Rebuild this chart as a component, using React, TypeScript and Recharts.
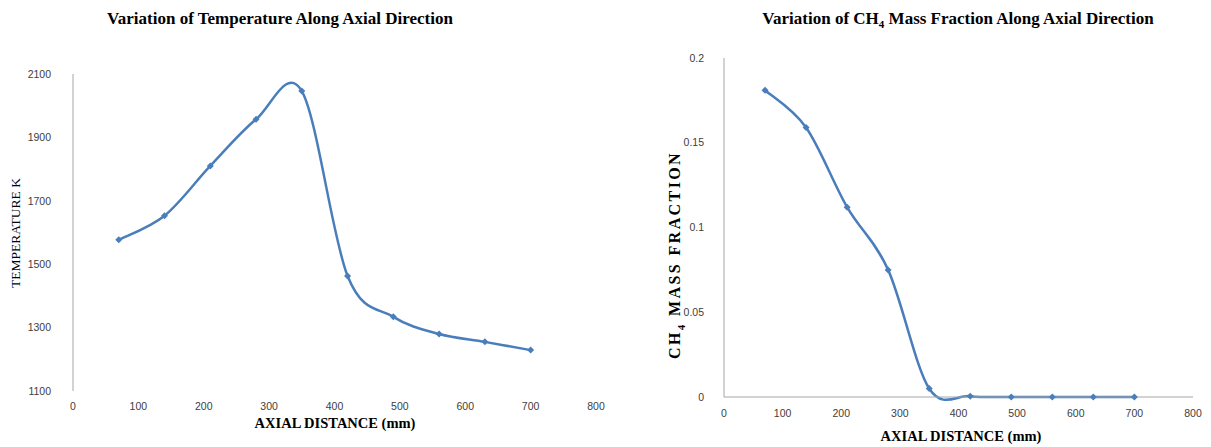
import React from "react";
import { LineChart, Line, XAxis, YAxis } from "recharts";

const distance = [70, 140, 210, 280, 350, 420, 490, 560, 630, 700];
const temperature = [1577, 1653, 1810, 1957, 2046, 1463, 1334, 1280, 1255, 1229];
const ch4Fraction = [0.181, 0.159, 0.112, 0.075, 0.005, 0.0005, 0, 0, 0, 0];

const xTicks = [0, 100, 200, 300, 400, 500, 600, 700, 800];
const tempTicks = [1100, 1300, 1500, 1700, 1900, 2100];
const ch4Ticks = [0, 0.05, 0.1, 0.15, 0.2];

const tempData = distance.map((d, i) => ({ distance: d, temperature: temperature[i] }));
const ch4Data = distance.map((d, i) => ({ distance: d, ch4: ch4Fraction[i] }));

const LINE = "#4a7ebb";
const AXIS = "#a6a6a6";
const tickStyle = { fill: "#404040", fontSize: 10.5, fontFamily: "Liberation Sans, Arial, sans-serif" };

// smoothing like the spreadsheet's "smoothed line": cubic bezier, control points from neighbours / 6
function smoothCurve(context: any) {
    let pts: number[][] = [];
    return {
        areaStart() {},
        areaEnd() {},
        lineStart() {
            pts = [];
        },
        point(x: number, y: number) {
            pts.push([+x, +y]);
        },
        lineEnd() {
            if (!pts.length) return;
            context.moveTo(pts[0][0], pts[0][1]);
            for (let i = 0; i < pts.length - 1; i++) {
                const p0 = pts[i - 1] || pts[i];
                const p1 = pts[i];
                const p2 = pts[i + 1];
                const p3 = pts[i + 2] || pts[i + 1];
                context.bezierCurveTo(
                    p1[0] + (p2[0] - p0[0]) / 6,
                    p1[1] + (p2[1] - p0[1]) / 6,
                    p2[0] - (p3[0] - p1[0]) / 6,
                    p2[1] - (p3[1] - p1[1]) / 6,
                    p2[0],
                    p2[1]
                );
            }
        },
    };
}

function Diamond(props: any) {
    const { cx, cy, index } = props;
    if (cx == null || cy == null) return <g key={index} />;
    const s = 3.5;
    return (
        <path
            key={index}
            d={`M${cx},${cy - s}L${cx + s},${cy}L${cx},${cy + s}L${cx - s},${cy}Z`}
            fill={LINE}
        />
    );
}

const titleStyle: React.CSSProperties = {
    position: "absolute",
    fontFamily: "Liberation Serif, Times New Roman, serif",
    fontWeight: 700,
    fontSize: 17,
    color: "#000",
    whiteSpace: "nowrap",
    transform: "translate(-50%, -50%)",
    lineHeight: 1,
};

const axisTitle: React.CSSProperties = {
    ...titleStyle,
    fontSize: 14.5,
};

export default function App() {
    return (
        <div style={{ position: "absolute", left: 0, top: 0, width: 1211, height: 447, background: "#fff" }}>
            <div style={{ ...titleStyle, left: 280, top: 18 }}>Variation of Temperature Along Axial Direction</div>
            <div style={{ ...titleStyle, left: 958, top: 20 }}>
                Variation of CH<sub style={{ fontSize: 11 }}>4</sub> Mass Fraction Along Axial Direction
            </div>

            <div style={{ ...axisTitle, left: 335, top: 423 }}>AXIAL DISTANCE (mm)</div>
            <div style={{ ...axisTitle, left: 961, top: 436 }}>AXIAL DISTANCE (mm)</div>
            <div
                style={{
                    ...axisTitle,
                    fontWeight: 400,
                    fontSize: 13.5,
                    left: 16,
                    top: 233,
                    transform: "translate(-50%, -50%) rotate(-90deg)",
                }}
            >
                TEMPERATURE K
            </div>
            <div
                style={{
                    ...axisTitle,
                    fontSize: 16,
                    letterSpacing: 2.4,
                    left: 677,
                    top: 255,
                    transform: "translate(-50%, -50%) rotate(-90deg)",
                }}
            >
                CH<sub style={{ fontSize: 11 }}>4</sub> MASS FRACTION
            </div>

            <div style={{ position: "absolute", left: 0, top: 0 }}>
                <LineChart width={610} height={447} data={tempData} margin={{ top: 74, right: 14, bottom: 36, left: 23 }}>
                    <XAxis
                        dataKey="distance"
                        type="number"
                        domain={[0, 800]}
                        ticks={xTicks}
                        axisLine={false}
                        tickLine={false}
                        tickSize={0}
                        tickMargin={12}
                        tick={tickStyle}
                        height={20}
                    />
                    <YAxis
                        type="number"
                        domain={[1100, 2100]}
                        ticks={tempTicks}
                        axisLine={{ stroke: AXIS }}
                        tickLine={false}
                        tickSize={0}
                        tickMargin={22}
                        tick={tickStyle}
                        width={50}
                    />
                    <Line
                        dataKey="temperature"
                        type={smoothCurve as any}
                        stroke={LINE}
                        strokeWidth={2.5}
                        dot={Diamond}
                        activeDot={false}
                        isAnimationActive={false}
                    />
                </LineChart>
            </div>

            <div style={{ position: "absolute", left: 620, top: 0 }}>
                <LineChart width={591} height={447} data={ch4Data} margin={{ top: 58, right: 18, bottom: 30, left: 54 }}>
                    <XAxis
                        dataKey="distance"
                        type="number"
                        domain={[0, 800]}
                        ticks={xTicks}
                        axisLine={{ stroke: AXIS }}
                        tickLine={false}
                        tickSize={0}
                        tickMargin={13}
                        tick={tickStyle}
                        height={20}
                    />
                    <YAxis
                        type="number"
                        domain={[0, 0.2]}
                        ticks={ch4Ticks}
                        axisLine={{ stroke: AXIS }}
                        tickLine={false}
                        tickSize={0}
                        tickMargin={20}
                        tick={tickStyle}
                        width={50}
                    />
                    <Line
                        dataKey="ch4"
                        type={smoothCurve as any}
                        stroke={LINE}
                        strokeWidth={2.5}
                        dot={Diamond}
                        activeDot={false}
                        isAnimationActive={false}
                    />
                </LineChart>
            </div>
        </div>
    );
}
